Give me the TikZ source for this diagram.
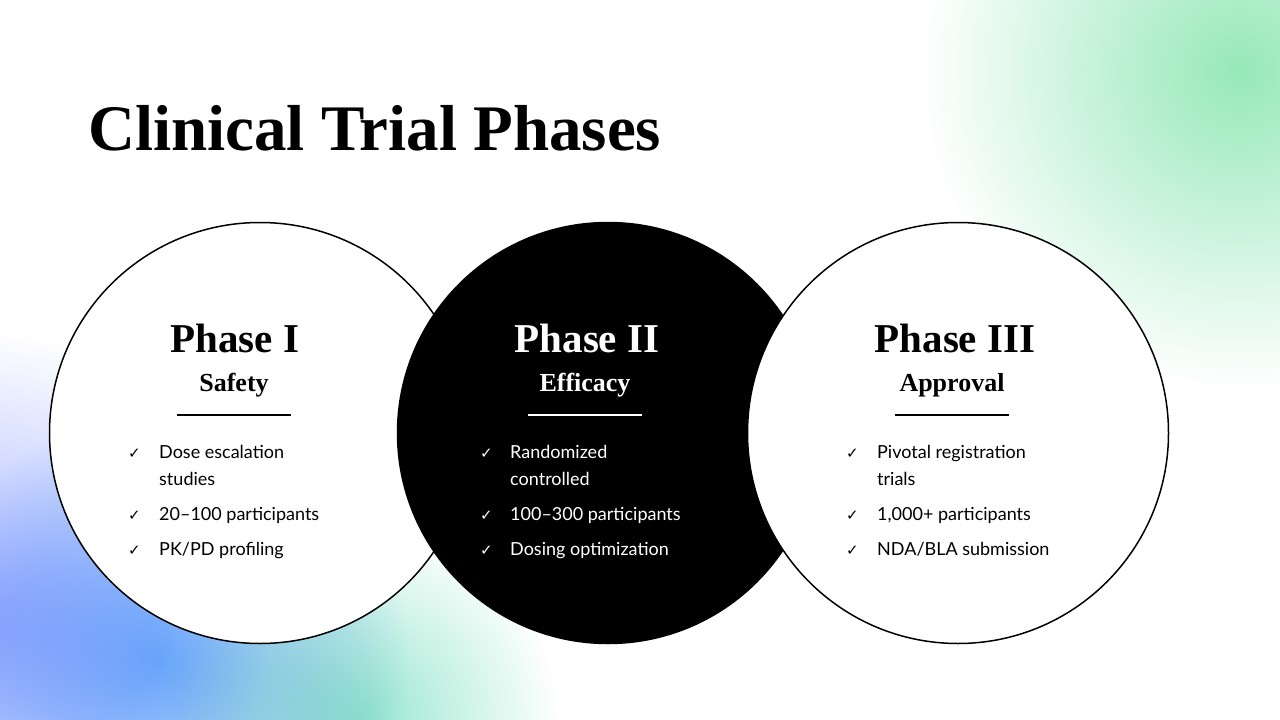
\documentclass[tikz,border=0pt]{standalone}
\usepackage{fontspec}
\setmainfont{Liberation Serif}
\setsansfont{Lato}
\newfontfamily\checkfont{DejaVu Sans}
\usetikzlibrary{positioning}
\definecolor{mint}{RGB}{150,232,185}
\definecolor{skyblue}{RGB}{120,185,250}
\definecolor{periwinkle}{RGB}{160,175,255}
\definecolor{seafoam}{RGB}{150,230,205}
\tikzset{
  phase/.style={circle, draw=black, line width=1.5pt, minimum size=421pt, inner sep=0pt},
  phasetitle/.style={anchor=base, font=\fontsize{41}{41}\selectfont\bfseries},
  phasesub/.style={anchor=base, font=\fontsize{26}{26}\selectfont\bfseries},
  item/.style={anchor=base west, inner sep=0pt, font=\sffamily\fontsize{18}{18}\selectfont},
  tick/.style={anchor=base west, inner sep=0pt, font=\checkfont\bfseries\fontsize{15}{15}\selectfont},
  rule/.style={line width=1.6pt},
  glow/.style={blend mode=multiply}
}
\begin{document}
\begin{tikzpicture}[x=1pt,y=-1pt]
    % Page and background glows
    \fill[white] (0,0) rectangle (1280,720);
    \useasboundingbox (0,0) rectangle (1280,720);
    \begin{scope}
      \clip (0,0) rectangle (1280,720);
      \shade[glow, inner color=mint, outer color=white] (1240,70) circle (320);
      \shade[glow, inner color=periwinkle, outer color=white] (-20,620) circle (290);
      \shade[glow, inner color=skyblue, outer color=white] (160,660) circle (250);
      \shade[glow, inner color=seafoam, outer color=white] (360,720) circle (200);
    \end{scope}

    % Title
    \node[anchor=base west, inner sep=0pt, font=\fontsize{65}{65}\selectfont\bfseries] (Title) at (88,150) {Clinical Trial Phases};

    % Circles
    \node[phase, fill=white] (C1) at (260,433) {};
    \node[phase, fill=black] (C2) at (608,433) {};
    \node[phase, fill=white] (C3) at (958,433) {};

    % Phase I
    \node[phasetitle] (T1) at (235,352) {Phase I};
    \node[phasesub] (S1) at (234,391) {Safety};
    \draw[rule] (177,415) -- (291,415);
    \node[tick] at (128,458) {✓};
    \node[item] (I1a) at (159,458) {Dose escalation};
    \node[item] (I1b) at (159,485) {studies};
    \node[tick] at (128,520) {✓};
    \node[item] (I1c) at (159,520) {20–100 participants};
    \node[tick] at (128,555) {✓};
    \node[item] (I1d) at (159,555) {PK/PD profiling};

    % Phase II
    \node[phasetitle, text=white] (T2) at (587,352) {Phase II};
    \node[phasesub, text=white] (S2) at (585,391) {Efficacy};
    \draw[rule, white] (528,415) -- (642,415);
    \node[tick, text=white] at (480,458) {✓};
    \node[item, text=white] (I2a) at (510,458) {Randomized};
    \node[item, text=white] (I2b) at (510,485) {controlled};
    \node[tick, text=white] at (480,520) {✓};
    \node[item, text=white] (I2c) at (510,520) {100–300 participants};
    \node[tick, text=white] at (480,555) {✓};
    \node[item, text=white] (I2d) at (510,555) {Dosing optimization};

    % Phase III
    \node[phasetitle] (T3) at (955,352) {Phase III};
    \node[phasesub] (S3) at (952,391) {Approval};
    \draw[rule] (895,415) -- (1009,415);
    \node[tick] at (846,458) {✓};
    \node[item] (I3a) at (877,458) {Pivotal registration};
    \node[item] (I3b) at (877,485) {trials};
    \node[tick] at (846,520) {✓};
    \node[item] (I3c) at (877,520) {1,000+ participants};
    \node[tick] at (846,555) {✓};
    \node[item] (I3d) at (877,555) {NDA/BLA submission};
\end{tikzpicture}
\end{document}
